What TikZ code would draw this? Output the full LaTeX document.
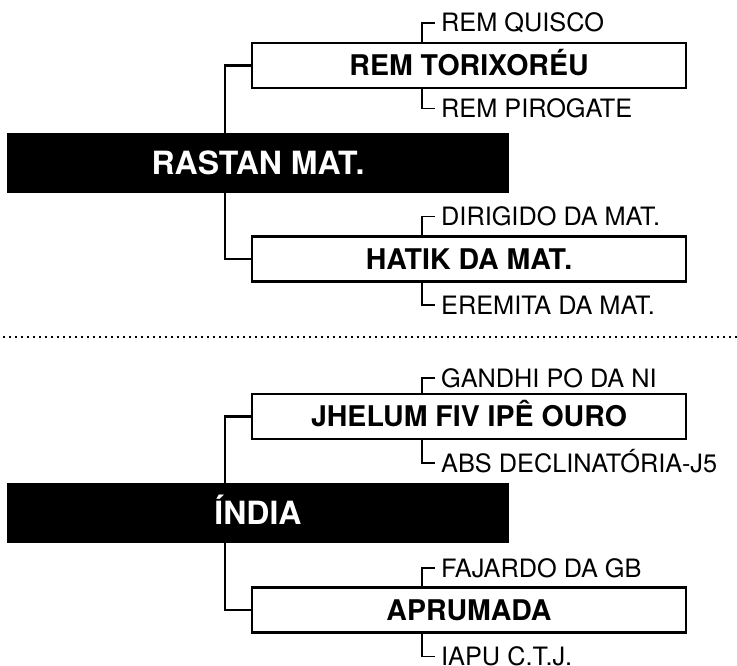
\documentclass[tikz,border=0pt]{standalone}
\usepackage{fontspec}
\setmainfont{TeX Gyre Heros}
\usetikzlibrary{positioning,calc}

\begin{document}
\begin{tikzpicture}[x=1pt, y=-1pt,
    wbox/.style={draw=black, line width=2.2pt, fill=white, minimum width=434pt, minimum height=45pt, inner sep=0pt, font=\fontsize{28.5}{32}\selectfont\bfseries, text height=20.5pt, text depth=0pt},
    bbox/.style={fill=black, text=white, minimum width=502pt, minimum height=60pt, inner sep=0pt, font=\fontsize{32}{36}\selectfont\bfseries, text height=23pt, text depth=0pt},
    lbl/.style={anchor=west, inner xsep=6pt, inner ysep=0pt, font=\fontsize{25.3}{29}\selectfont, text height=18pt, text depth=0pt},
    trunk/.style={draw=black, line width=2.6pt},
    brk/.style={draw=black, line width=1.8pt},
    sep/.style={draw=black, line width=1.8pt, dash pattern=on 1.8pt off 4.2pt}
  ]
    \useasboundingbox (0,0) rectangle (737,666);
    \coordinate (tx) at (225,0);
    \coordinate (bx) at (422,0);

    % Rastan group
    \node[wbox] (remtor) at (469,65.5) {REM TORIXORÉU};
    \node[lbl] (quisco) at (435,22.7) {REM QUISCO};
    \node[lbl] (pirog) at (435,108.5) {REM PIROGATE};
    \node[wbox] (hatik) at (469,259) {HATIK DA MAT.};
    \node[lbl] (dirig) at (435,216.5) {DIRIGIDO DA MAT.};
    \node[lbl] (eremita) at (435,305) {EREMITA DA MAT.};

    \draw[brk] (remtor.north -| bx) |- (quisco.west);
    \draw[brk] (remtor.south -| bx) |- (pirog.west);
    \draw[brk] (hatik.north -| bx) |- (dirig.west);
    \draw[brk] (hatik.south -| bx) |- (eremita.west);
    \draw[trunk] (remtor.west) -- (remtor.west -| tx) |- (hatik.west);

    \node[bbox] (rastan) at (258,163) {RASTAN MAT.};

    % separator
    \coordinate (sl) at (3,337);
    \coordinate (sr) at (737,337);
    \draw[sep] (sl) -- (sr);

    % India group
    \node[wbox] (jhelum) at (469,416.5) {JHELUM FIV IPÊ OURO};
    \node[lbl] (gandhi) at (435,378) {GANDHI PO DA NI};
    \node[lbl] (abs) at (435,463) {ABS DECLINATÓRIA-J5};
    \node[wbox] (aprum) at (469,610) {APRUMADA};
    \node[lbl] (fajardo) at (435,568) {FAJARDO DA GB};
    \node[lbl] (iapu) at (435,656.5) {IAPU C.T.J.};

    \draw[brk] (jhelum.north -| bx) |- (gandhi.west);
    \draw[brk] (jhelum.south -| bx) |- (abs.west);
    \draw[brk] (aprum.north -| bx) |- (fajardo.west);
    \draw[brk] (aprum.south -| bx) |- (iapu.west);
    \draw[trunk] (jhelum.west) -- (jhelum.west -| tx) |- (aprum.west);

    \node[bbox] (india) at (258,513) {ÍNDIA};
\end{tikzpicture}
\end{document}
